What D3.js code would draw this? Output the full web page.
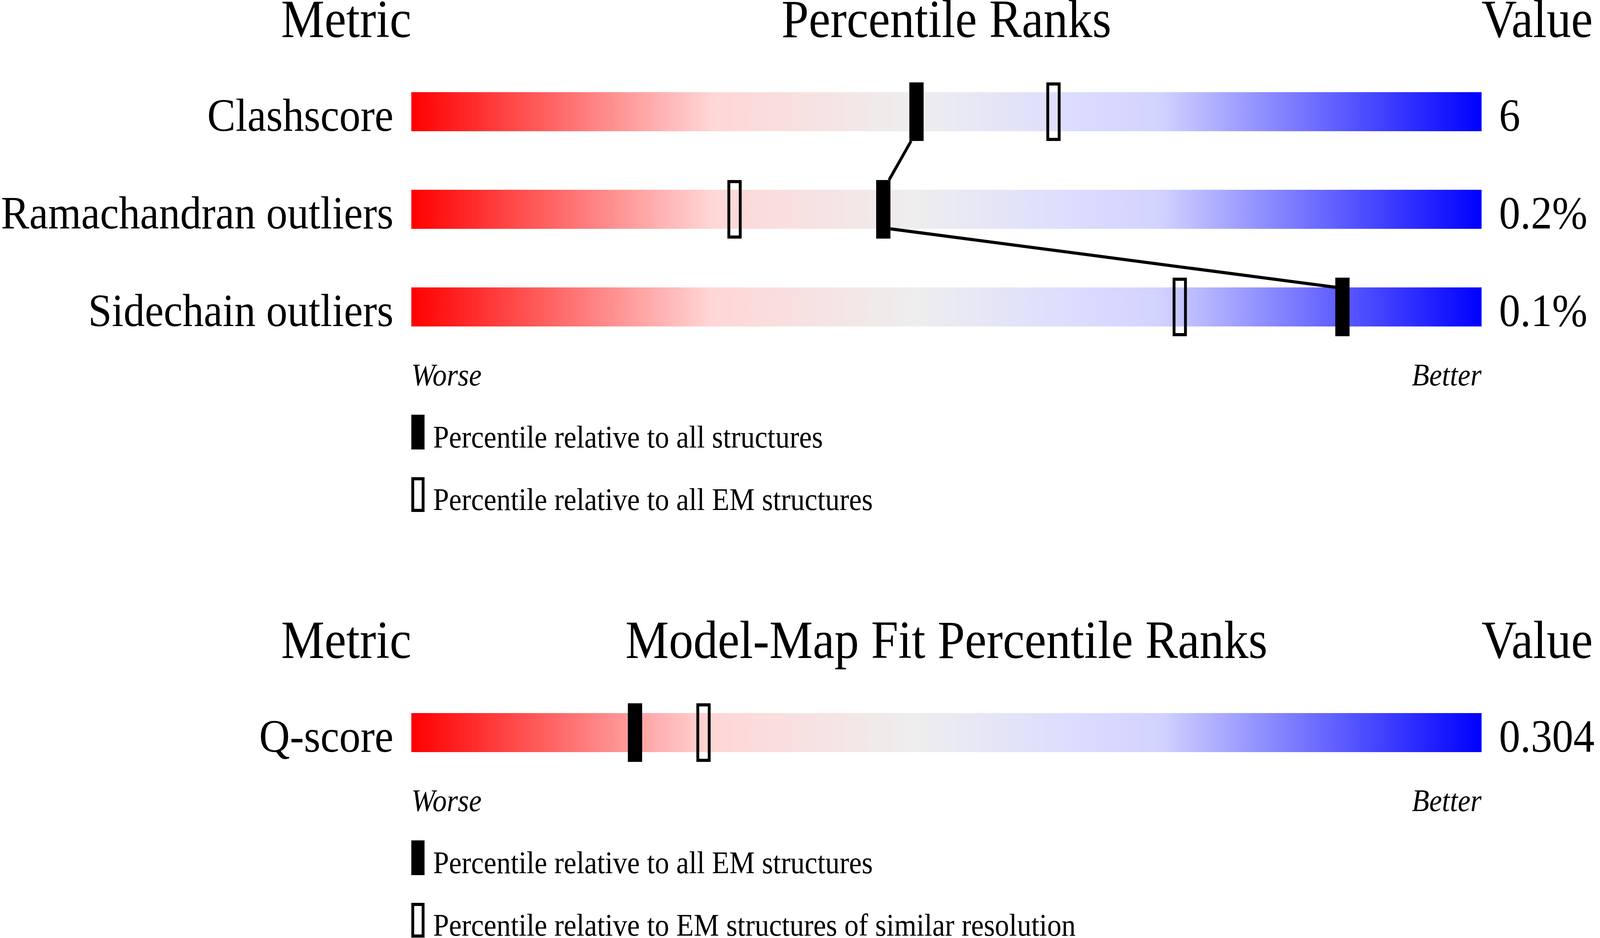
<html>
<head>
<title>Percentile ranks</title>
<style>
  html, body { margin: 0; padding: 0; background: #fff; overflow: hidden; }
  svg { display: block; }
  text { font-family: "Liberation Serif", "Times New Roman", serif; fill: #000; }
</style>
</head>
<body>
<script src="https://d3js.org/d3.v7.min.js"></script>
<script>
// ---- data ----
var metrics = ["Clashscore", "Ramachandran outliers", "Sidechain outliers"];
var metricValues = ["6", "0.2%", "0.1%"];
var pctAll = [47.2, 44.1, 87.0];      // filled marker
var pctEM = [60.0, 30.2, 71.8];       // open marker
var legendTop = ["Percentile relative to all structures", "Percentile relative to all EM structures"];

var fitMetrics = ["Q-score"];
var fitValues = ["0.304"];
var fitPctAll = [20.9];
var fitPctRes = [27.3];
var legendBottom = ["Percentile relative to all EM structures", "Percentile relative to EM structures of similar resolution"];

var W = 4485, H = 2402;
var barH = 100, markH = 150, markW = 40;

// drawing in 4485x2402 units, stretched to fill the window
var svg = d3.select("body").append("svg")
  .attr("viewBox", "0 0 " + W + " " + H)
  .attr("preserveAspectRatio", "none")
  .attr("width", "100vw").attr("height", "100vh");

// gradient red -> grey -> blue
var grad = svg.append("defs").append("linearGradient").attr("id", "rb")
  .attr("x1", "0%").attr("x2", "100%").attr("y1", "0%").attr("y2", "0%");
[[0, "#ff0000"], [0.28, "#ffd6d6"], [0.47, "#eeeeee"], [0.62, "#dcdcff"], [0.70, "#d2d2ff"], [1, "#0000ff"]]
  .forEach(function(s){ grad.append("stop").attr("offset", s[0]).attr("stop-color", s[1]); });

var x = d3.scaleLinear().domain([0, 100]).range([1153, 4153]);

function section(top, title, names, values, full, open, legend) {
  var g = svg.append("g");
  var y = d3.scaleLinear().domain([0, 1]).range([top, top + 250]);
  var last = y(names.length - 1) + barH;

  // headers
  g.append("text").attr("x", x(0)).attr("y", top - 141).attr("text-anchor", "end")
    .attr("font-size", 137).text("Metric");
  g.append("text").attr("x", (x(0) + x(100)) / 2).attr("y", top - 141).attr("text-anchor", "middle")
    .attr("font-size", 137).text(title);
  g.append("text").attr("x", x(100)).attr("y", top - 141)
    .attr("font-size", 137).text("Value");

  // bars
  g.selectAll("rect.bar").data(names).enter().append("rect").attr("class", "bar")
    .attr("x", x(0)).attr("y", function(d, i){ return y(i); })
    .attr("width", x(100) - x(0)).attr("height", barH)
    .attr("fill", "url(#rb)");

  g.selectAll("text.name").data(names).enter().append("text").attr("class", "name")
    .attr("x", x(0) - 50).attr("y", function(d, i){ return y(i) + barH - 1; })
    .attr("text-anchor", "end").attr("font-size", 119).text(function(d){ return d; });

  g.selectAll("text.val").data(values).enter().append("text").attr("class", "val")
    .attr("x", x(100) + 49).attr("y", function(d, i){ return y(i) + barH - 1; })
    .attr("font-size", 119).text(function(d){ return d; });

  // connecting lines between filled markers
  for (var i = 0; i < full.length - 1; i++) {
    var a = x(full[i]), b = x(full[i + 1]), l;
    if (b < a) {
      l = [a - markW / 2 + 5, y(i) + barH + 25, b + markW / 2 - 4, y(i + 1) - 25];
    } else {
      l = [a + markW / 2, y(i) + barH, b - markW / 2 + 4, y(i + 1)];
    }
    g.append("line").attr("x1", l[0]).attr("y1", l[1]).attr("x2", l[2]).attr("y2", l[3])
      .attr("stroke", "#000").attr("stroke-width", 8);
  }

  // open markers
  g.selectAll("rect.open").data(open).enter().append("rect").attr("class", "open")
    .attr("x", function(d){ return x(d) - markW / 2 + 4; })
    .attr("y", function(d, i){ return y(i) - 25 + 4; })
    .attr("width", markW - 8).attr("height", markH - 8)
    .attr("fill", "none").attr("stroke", "#000").attr("stroke-width", 8);

  // filled markers
  g.selectAll("rect.full").data(full).enter().append("rect").attr("class", "full")
    .attr("x", function(d){ return x(d) - markW / 2; })
    .attr("y", function(d, i){ return y(i) - 25; })
    .attr("width", markW).attr("height", markH).attr("fill", "#000");

  // worse / better
  g.append("text").attr("x", x(0)).attr("y", last + 151).attr("font-size", 80)
    .attr("font-style", "italic").text("Worse");
  g.append("text").attr("x", x(100)).attr("y", last + 151).attr("font-size", 80)
    .attr("text-anchor", "end").attr("font-style", "italic").text("Better");

  // legend
  var lg = g.selectAll("g.leg").data(legend).enter().append("g").attr("class", "leg")
    .attr("transform", function(d, i){ return "translate(" + x(0) + "," + (last + 226 + i * 160) + ")"; });
  lg.append("rect")
    .attr("x", function(d, i){ return i ? 4 : 0; })
    .attr("y", function(d, i){ return i ? 4 : 0; })
    .attr("width", function(d, i){ return i ? 29 : 37; })
    .attr("height", function(d, i){ return i ? 81 : 89; })
    .attr("fill", function(d, i){ return i ? "none" : "#000"; })
    .attr("stroke", function(d, i){ return i ? "#000" : "none"; })
    .attr("stroke-width", 8);
  lg.append("text").attr("x", 61).attr("y", 84).attr("font-size", 80).text(function(d){ return d; });
}

section(236, "Percentile Ranks", metrics, metricValues, pctAll, pctEM, legendTop);
section(1826, "Model-Map Fit Percentile Ranks", fitMetrics, fitValues, fitPctAll, fitPctRes, legendBottom);
</script>
</body>
</html>
